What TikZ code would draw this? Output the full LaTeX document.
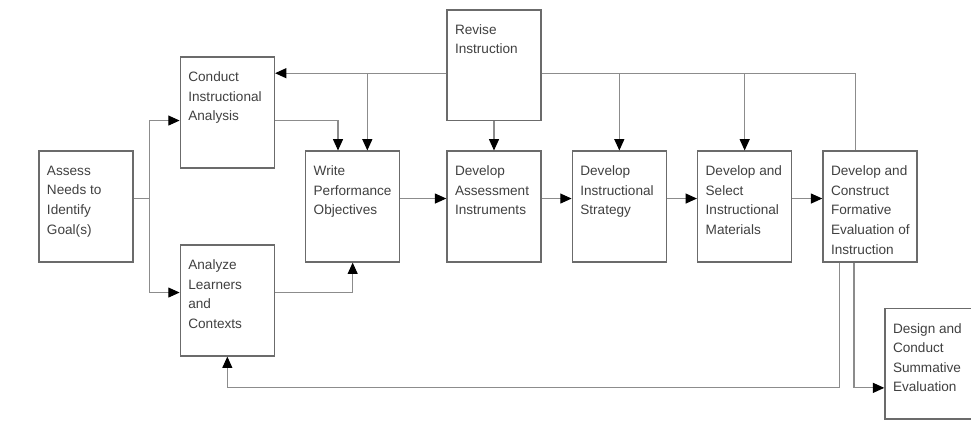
\documentclass[tikz,border=0pt]{standalone}
\usepackage{fontspec}
\newfontfamily\stagefont{Liberation Sans}
\usetikzlibrary{positioning}
\usetikzlibrary{arrows.meta}
\definecolor{boxgray}{gray}{0.42}
\definecolor{wiregray}{gray}{0.55}
\definecolor{textgray}{gray}{0.25}
\tikzset{
	stage/.style={draw=boxgray, line width=1.1pt, rectangle, inner sep=0pt, text=textgray,
		font={\stagefont\fontsize{10.2}{14.7}\selectfont},
		execute at begin node={\begin{minipage}[c][83pt][t]{70.5pt}\raggedright\leftskip=6pt\vspace*{11pt}},
		execute at end node={\end{minipage}}},
	% connectors between the stages
	wire/.style={draw=wiregray, line width=0.8pt},
}

\begin{document}
\begin{tikzpicture}[node distance=94pt]
	\useasboundingbox (-64.5pt,-164.6pt) rectangle (663.75pt,154.9pt);
	
	\node (assess) [stage] {Assess\\Needs to\\Identify\\Goal(s)};
	
	\node (conduct) [stage, right of=assess, xshift=12pt, yshift=70.5pt] {Conduct\\Instructional\\Analysis};
	\node (analyze) [stage, right of=assess, xshift=12pt, yshift=-70.5pt] {Analyze\\Learners\\and\\Contexts};
	\node (write) [stage, right of=conduct, yshift=-70.5pt] {Write\\Performance\\Objectives};
	
	\node (instr) [stage, right of=write, xshift=12pt] {Develop\\Assessment\\Instruments};
	\node (revise) [stage, above of=instr, yshift=12pt] {Revise\\Instruction};
	\node (strategy) [stage, right of=instr] {Develop\\Instructional\\Strategy};
	\node (materials) [stage, right of=strategy] {Develop and\\Select\\Instructional\\Materials};
	\node (formative) [stage, right of=materials] {Develop and\\Construct\\Formative\\Evaluation of\\Instruction};
	\node (design) [stage, below of=formative, yshift=-24pt, xshift=46.5pt] {Design and\\Conduct\\Summative\\Evaluation};
	
	\coordinate (back) at ([yshift=-6pt]revise.west);
	\coordinate (fwd) at ([yshift=-6pt]revise.east);
	
	\begin{scope}[wire, -{Triangle[length=8.5pt, width=7.5pt, color=black]}]
		\draw ([yshift=6pt]assess.east) -- ++(12pt,0) |- ([yshift=-6pt]conduct.west);
		\draw ([yshift=6pt]assess.east) -- ++(12pt,0) |- ([yshift=6pt]analyze.west);
		
		\draw ([yshift=-6pt]conduct.east) -| ([xshift=-11pt]write.north);
		\draw ([yshift=6pt]analyze.east) -| (write.south);
		
		\draw (back) -- (back -| conduct.east);
		\draw (back) -| ([xshift=11pt]write.north);
		\draw (revise) -- (instr);
		\draw (fwd) -| (strategy.north);
		\draw (fwd) -| (materials.north);
		\draw[-] (fwd) -| ([xshift=-11pt]formative.north);
		
		\draw ([yshift=6pt]write.east) -- ([yshift=6pt]instr.west);
		\draw ([yshift=6pt]instr.east) -- ([yshift=6pt]strategy.west);
		\draw ([yshift=6pt]strategy.east) -- ([yshift=6pt]materials.west);
		\draw ([yshift=6pt]materials.east) -- ([yshift=6pt]formative.west);
		
		\draw ([xshift=-23pt]formative.south) -- ++(0,-94pt) -| (analyze.south);
		\draw ([xshift=-12pt]formative.south) |- ([yshift=-18pt]design.west);
	\end{scope}
	
\end{tikzpicture}
\end{document}
